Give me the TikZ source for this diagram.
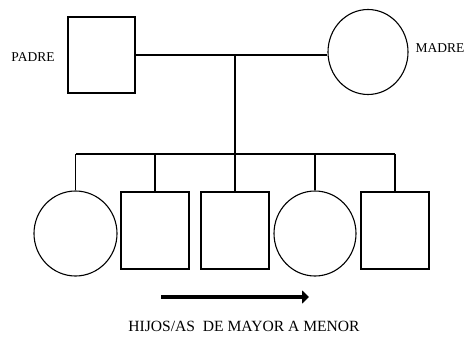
\documentclass[tikz,border=0pt]{standalone}
\usepackage{fontspec}
\setmainfont{Liberation Serif}
\usetikzlibrary{shapes.geometric,arrows.meta}
\tikzset{
  x=1pt,y=-1pt,
  male/.style={draw,line width=1.1pt,rectangle,inner sep=0pt,minimum width=67pt,minimum height=76pt},
  female/.style={draw,line width=1.1pt,ellipse,inner sep=0pt,minimum width=82pt,minimum height=85pt},
  link/.style={line width=1.1pt},
  lbl/.style={font=\fontsize{13.5}{15}\selectfont,inner sep=0pt},
}
\begin{document}
\begin{tikzpicture}
\useasboundingbox (0,0) rectangle (465,339);
\node[male] (padre) at (101.5,55) {};
\node[female,minimum width=80pt] (madre) at (368,52) {};
\node[lbl] (lp) at (33,57) {PADRE};
\node[lbl] (lm) at (440,48) {MADRE};
\coordinate (m) at (235,55);
\coordinate (s) at (235,154);
\node[female,minimum width=83pt] (c1) at (75.5,233.5) {};
\node[male,minimum width=68pt,minimum height=77pt] (c2) at (155,230.5) {};
\node[male,minimum width=68pt,minimum height=77pt] (c3) at (235,230.5) {};
\node[female] (c4) at (315,233.5) {};
\node[male,minimum width=68pt,minimum height=77pt] (c5) at (395,230.5) {};
\draw[link] (padre.east) -- (padre.east -| madre.west);
\draw[link] (m) -- (s);
\draw[link] (c1.north |- s) -- (c5.north |- s);
\foreach \c in {c1,c2,c3,c4,c5} \draw[link] (\c.north |- s) -- (\c.north);
\coordinate (a1) at (161,297);
\coordinate (a2) at (309,297);
\draw[line width=3.5pt,-{Triangle[length=7pt,width=13pt]}] (a1) -- (a2);
\node[font=\fontsize{15.6}{17}\selectfont,inner sep=0pt] (t) at (244,326) {HIJOS/AS\ \ DE MAYOR A MENOR};
\end{tikzpicture}
\end{document}
